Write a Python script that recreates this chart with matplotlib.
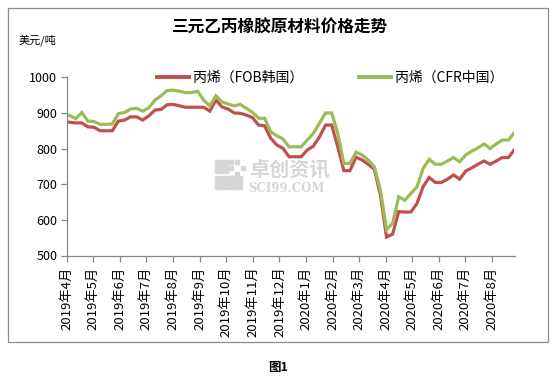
import matplotlib
matplotlib.use("Agg")
import matplotlib.pyplot as plt
from matplotlib.lines import Line2D
from matplotlib.patches import Rectangle
import pandas as pd

plt.rcParams['font.family'] = ['Noto Sans CJK SC', 'DejaVu Sans']

# ---- data ----
dates = pd.date_range('2019-04-04', periods=74, freq='7D')
fob_korea = [874, 872, 872, 861, 860, 850, 850, 850, 877, 880,
             889, 889, 880, 892, 908, 910, 923, 924, 920, 916,
             916, 916, 916, 905, 936, 917, 911, 900, 899, 894,
             887, 866, 864, 829, 810, 801, 777, 777, 777, 796,
             807, 833, 866, 866, 805, 738, 738, 776, 768, 756,
             742, 670, 552, 560, 623, 622, 622, 646, 693, 719,
             705, 705, 714, 726, 714, 737, 746, 756, 765, 756,
             765, 775, 775, 797]
cfr_china = [893, 884, 901, 877, 876, 868, 868, 869, 898, 901,
             911, 913, 905, 915, 936, 948, 963, 964, 961, 957,
             957, 961, 936, 920, 948, 931, 925, 920, 924, 913,
             902, 885, 885, 847, 836, 827, 805, 805, 805, 824,
             843, 871, 900, 900, 843, 758, 758, 790, 782, 768,
             749, 683, 573, 590, 665, 655, 674, 693, 744, 770,
             756, 756, 765, 775, 763, 782, 793, 802, 813, 800,
             813, 824, 824, 845]
series_names = ['丙烯（FOB韩国）', '丙烯（CFR中国）']
series_colors = ['#C0504D', '#9BBB59']
month_ticks = pd.date_range('2019-04-01', '2020-08-01', freq='MS')
month_labels = [f'{d.year}年{d.month}月' for d in month_ticks]
y_ticks = [500, 600, 700, 800, 900, 1000]

title = '三元乙丙橡胶原材料价格走势'
unit = '美元/吨'
caption = '图1'

# ---- figure ----
W, H = 554, 379
fig = plt.figure(figsize=(W / 100, H / 100), dpi=100)

def fx(px):
    return px / W

def fy(py):
    return 1 - py / H

ax = fig.add_axes([fx(67), fy(255.5), fx(514.5) - fx(67), fy(77.3) - fy(255.5)])

# chart frame
fig.patches.append(Rectangle((fx(7.5), fy(342)), fx(548) - fx(7.5), fy(8) - fy(342),
                             transform=fig.transFigure, fill=False,
                             edgecolor='#8C8C8C', linewidth=0.9, zorder=0))

# watermark
wm = '#D6D6D6'
for (x0, y0, s) in [(215, 160, 13), (229, 160, 4), (235, 160, 4), (229, 166, 4),
                    (241, 166, 4), (235, 172, 4), (215, 176, 13), (229, 176, 13)]:
    fig.patches.append(Rectangle((fx(x0), fy(y0 + s)), fx(s), fy(0) - fy(s),
                                 transform=fig.transFigure, color=wm, zorder=0.5))
fig.text(fx(249), fy(169), '卓创资讯', fontsize=14.5, color=wm, ha='left', va='center',
         fontweight='bold', zorder=0.5)
fig.text(fx(248), fy(188), 'SCI99.COM', fontsize=8.5, color=wm, ha='left', va='center',
         family='DejaVu Serif', fontweight='bold', zorder=0.5)

ax.patch.set_alpha(0)
for vals, name, col in zip([fob_korea, cfr_china], series_names, series_colors):
    ax.plot(dates, vals, color=col, linewidth=2.3, label=name, solid_joinstyle='miter')

ax.set_xlim(pd.Timestamp('2019-04-01'), dates[-1])
ax.set_ylim(500, 1000)
ax.set_yticks(y_ticks)
ax.set_yticklabels([str(v) for v in y_ticks])
ax.set_xticks(month_ticks)
ax.set_xticklabels(month_labels, rotation=90, ha='center', va='top')

for s in ['top', 'right']:
    ax.spines[s].set_visible(False)
for s in ['left', 'bottom']:
    ax.spines[s].set_color('#868686')
    ax.spines[s].set_linewidth(0.9)
ax.tick_params(axis='both', direction='out', length=4, width=0.9, color='#868686',
               labelcolor='#000000')
ax.tick_params(axis='y', labelsize=9, pad=3)
ax.tick_params(axis='x', labelsize=9.5, pad=4)

handles = [Line2D([0], [0], color=c, linewidth=2.8) for c in series_colors]
fig.legend(handles, series_names, loc='center', bbox_to_anchor=(fx(330), fy(78)),
           ncol=2, frameon=False, fontsize=10, handlelength=2.3, handletextpad=0.3,
           columnspacing=4.0, borderpad=0)

fig.text(fx(280), fy(28), title, fontsize=12, fontweight='bold', ha='center', va='center')
fig.text(fx(19), fy(40), unit, fontsize=8, ha='left', va='center')
fig.text(fx(278), fy(368), caption, fontsize=9, fontweight='bold', ha='center', va='center')

fig.savefig('out.png', dpi=100)
